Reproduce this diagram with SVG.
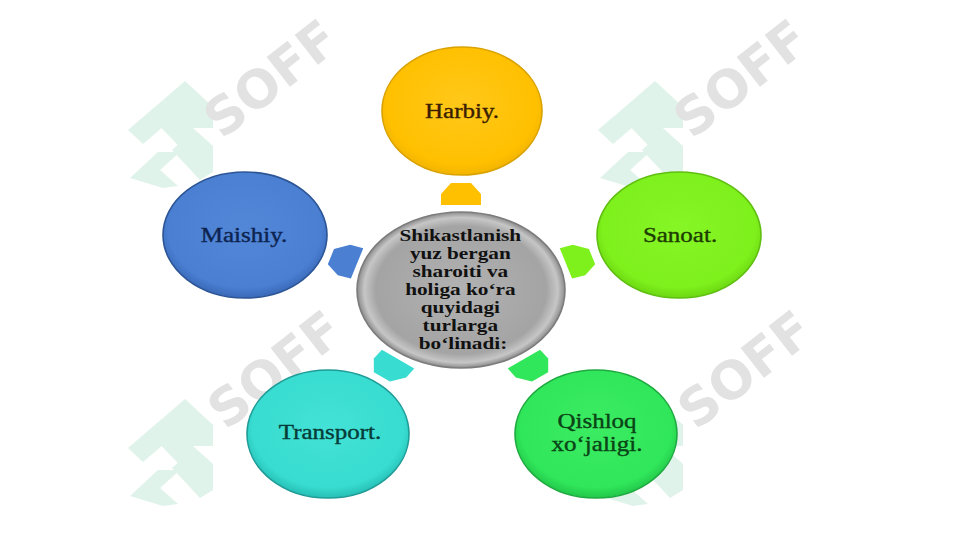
<svg xmlns="http://www.w3.org/2000/svg" xmlns:xlink="http://www.w3.org/1999/xlink" width="961" height="540" viewBox="0 0 961 540">
<style>
.lbl{font-family:"Liberation Serif","Times New Roman",serif;font-size:20px;text-anchor:middle;stroke-width:0.35px}
.ctr{font-family:"Liberation Serif","Times New Roman",serif;font-size:17px;font-weight:bold;text-anchor:middle;fill:#111}
.node ellipse{stroke-width:1.6}
.wm{font-family:"DejaVu Sans",sans-serif;font-weight:bold;font-size:52px;fill:#e2e2e2}
.logo polygon{fill:#dff3ea}
</style>
<defs>
<path id="arw" d="M-11,-16 L0,-16 L11,-8 L11,8 L0,16 L-11,16 Z"/>
<radialGradient id="gC" cx="50%" cy="50%" r="50%">
<stop offset="0" stop-color="#b2b2b2"/><stop offset="0.82" stop-color="#a4a4a4"/><stop offset="0.93" stop-color="#c6c6c6"/><stop offset="1" stop-color="#8c8c8c"/>
</radialGradient>
<radialGradient id="gY" cx="50%" cy="45%" r="55%">
<stop offset="0" stop-color="#ffc81a"/><stop offset="0.85" stop-color="#ffc000"/><stop offset="1" stop-color="#f2b400"/>
</radialGradient>
<radialGradient id="gS" cx="50%" cy="45%" r="55%">
<stop offset="0" stop-color="#86f626"/><stop offset="0.85" stop-color="#7ef01c"/><stop offset="1" stop-color="#6cd812"/>
</radialGradient>
<radialGradient id="gQ" cx="50%" cy="45%" r="55%">
<stop offset="0" stop-color="#3cec62"/><stop offset="0.85" stop-color="#30e65a"/><stop offset="1" stop-color="#22c84a"/>
</radialGradient>
<radialGradient id="gT" cx="50%" cy="45%" r="55%">
<stop offset="0" stop-color="#44e2d6"/><stop offset="0.85" stop-color="#38dcd0"/><stop offset="1" stop-color="#26bfb6"/>
</radialGradient>
<radialGradient id="gM" cx="50%" cy="45%" r="55%">
<stop offset="0" stop-color="#5287d8"/><stop offset="0.85" stop-color="#4a7fd2"/><stop offset="1" stop-color="#3a69b8"/>
</radialGradient>
<g id="logo" class="logo">
<polygon points="128,130 163,100 178,114 143,144"/>
<polygon points="163,100 185,81 213,107 213,128 192,128"/>
<polygon points="150,116 165,103 213,146 213,166 198,166"/>
<polygon points="130,178 158,152 180,152 160,170 178,186 163,188"/>
<polygon points="172,150 188,136 213,160 213,172 200,180"/>
</g>
</defs>
<rect x="0" y="0" width="961" height="540" fill="#ffffff"/>

<g id="watermark">
<use xlink:href="#logo" href="#logo"/>
<use xlink:href="#logo" href="#logo" transform="translate(470,0)"/>
<use xlink:href="#logo" href="#logo" transform="translate(0,318)"/>
<use xlink:href="#logo" href="#logo" transform="translate(470,318)"/>
<text class="wm" transform="translate(222,140) rotate(-38)">SOFF</text>
<text class="wm" transform="translate(692,140) rotate(-38)">SOFF</text>
<text class="wm" transform="translate(226,431) rotate(-38)">SOFF</text>
<text class="wm" transform="translate(696,431) rotate(-38)">SOFF</text>
</g>

<g id="connectors">
<use xlink:href="#arw" href="#arw" fill="#ffc000" transform="translate(461,194) scale(1.25,1) rotate(-90)"/>
<use xlink:href="#arw" href="#arw" fill="#7ef01c" transform="translate(579,260) scale(1.25,1) rotate(-18)"/>
<use xlink:href="#arw" href="#arw" fill="#30e65a" transform="translate(532,368) scale(1.25,1) rotate(54)"/>
<use xlink:href="#arw" href="#arw" fill="#38dcd0" transform="translate(390,368) scale(1.25,1) rotate(126)"/>
<use xlink:href="#arw" href="#arw" fill="#4a7fd2" transform="translate(344,260) scale(1.25,1) rotate(198)"/>
</g>

<g id="center" class="node">
<ellipse cx="461" cy="290" rx="104" ry="78" fill="url(#gC)" stroke="#7c7c7c"/>
<text class="ctr" transform="translate(463,0) scale(1.25,1)">
<tspan x="0" y="241">Shikastlanish</tspan>
<tspan x="0" y="259">yuz bergan</tspan>
<tspan x="0" y="277">sharoiti va</tspan>
<tspan x="0" y="295">holiga ko‘ra</tspan>
<tspan x="0" y="313">quyidagi</tspan>
<tspan x="0" y="331">turlarga</tspan>
<tspan x="0" y="349">bo‘linadi:</tspan>
</text>
</g>

<g id="harbiy" class="node">
<ellipse cx="462" cy="111" rx="80" ry="64" fill="url(#gY)" stroke="#d9a200"/>
<text class="lbl" fill="#3a1e00" stroke="#3a1e00" transform="translate(462,118) scale(1.25,1)">Harbiy.</text>
</g>

<g id="sanoat" class="node">
<ellipse cx="679" cy="235" rx="82" ry="63" fill="url(#gS)" stroke="#5fbf10"/>
<text class="lbl" fill="#1d3d00" stroke="#1d3d00" transform="translate(680,242) scale(1.25,1)">Sanoat.</text>
</g>

<g id="qishloq" class="node">
<ellipse cx="596" cy="434" rx="81" ry="64" fill="url(#gQ)" stroke="#1faa40"/>
<text class="lbl" fill="#0a4416" stroke="#0a4416" transform="translate(597,0) scale(1.25,1)"><tspan x="0" y="428">Qishloq</tspan><tspan x="0" y="451">xo‘jaligi.</tspan></text>
</g>

<g id="transport" class="node">
<ellipse cx="328" cy="434" rx="81" ry="64" fill="url(#gT)" stroke="#1f9c98"/>
<text class="lbl" fill="#063c38" stroke="#063c38" transform="translate(330,439) scale(1.25,1)">Transport.</text>
</g>

<g id="maishiy" class="node">
<ellipse cx="245" cy="235" rx="82" ry="63" fill="url(#gM)" stroke="#2c5596"/>
<text class="lbl" fill="#0d2450" stroke="#0d2450" transform="translate(244,242) scale(1.25,1)">Maishiy.</text>
</g>
</svg>
